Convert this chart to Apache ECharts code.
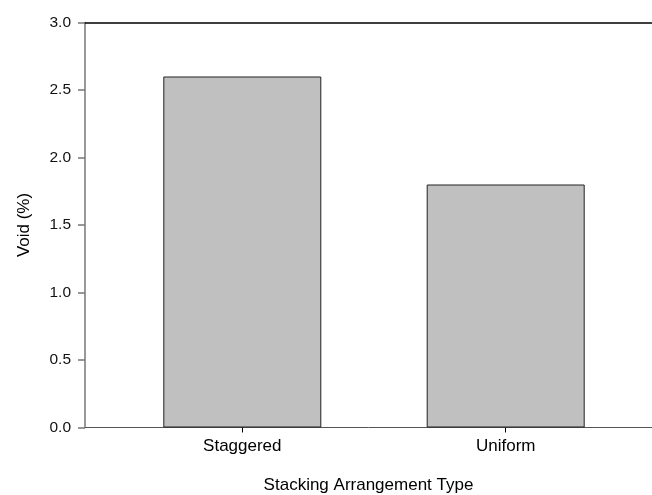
<!DOCTYPE html>
<html>
<head>
<meta charset="utf-8">
<script src="https://cdn.jsdelivr.net/npm/echarts@6/dist/echarts.min.js"></script>
<style>
html,body{margin:0;padding:0;background:#fff;}
#chart{width:652px;height:495px;}
</style>
</head>
<body>
<div id="chart"></div>
<script>
const categories = ["Staggered", "Uniform"];
const voidValues = [2.6, 1.8];
const yTicks = [0, 0.5, 1.0, 1.5, 2.0, 2.5, 3.0];

const FONT = "'Liberation Sans', Arial, sans-serif";
const chart = echarts.init(document.getElementById('chart'), null, {renderer: 'canvas'});
const option = {
  animation: false,
  backgroundColor: '#ffffff',
  grid: [
    {left: 85, right: 0, top: 22.5, bottom: 67.5, containLabel: false, outerBoundsMode: 'none'},
    {left: 110.6, right: 14.6, top: 22.5, bottom: 67.5, containLabel: false, outerBoundsMode: 'none'}
  ],
  xAxis: [
    {
      gridIndex: 0, type: 'value', min: 0, max: 1, position: 'bottom',
      axisLine: {show: true, lineStyle: {color: '#555', width: 1}},
      axisTick: {show: false}, axisLabel: {show: false}, splitLine: {show: false},
      name: 'Stacking Arrangement Type', nameLocation: 'middle', nameGap: 49,
      nameTextStyle: {fontFamily: FONT, fontSize: 17, color: '#000'}
    },
    {
      gridIndex: 0, type: 'value', min: 0, max: 1, position: 'top',
      axisLine: {show: true, lineStyle: {color: '#000', width: 1.5}},
      axisTick: {show: false}, axisLabel: {show: false}, splitLine: {show: false}
    },
    {
      gridIndex: 1, type: 'category', data: categories, position: 'bottom',
      axisLine: {show: false},
      axisTick: {show: true, alignWithLabel: true, length: 5, lineStyle: {color: '#000'}},
      axisLabel: {margin: 10, fontFamily: FONT, fontSize: 17, color: '#000'},
      splitLine: {show: false}
    }
  ],
  yAxis: [
    {
      gridIndex: 0, type: 'value', min: 0, max: 3, interval: 0.5,
      axisLine: {show: true, lineStyle: {color: '#777', width: 1.5}},
      axisTick: {show: true, length: 7, lineStyle: {color: '#777', width: 1.5}},
      axisLabel: {margin: 14, fontFamily: FONT, fontSize: 15.5, color: '#111',
        formatter: v => yTicks.includes(v) ? v.toFixed(1) : ''},
      splitLine: {show: false},
      name: 'Void (%)', nameLocation: 'middle', nameGap: 52, nameRotate: 90,
      nameTextStyle: {fontFamily: FONT, fontSize: 17, color: '#000'}
    },
    {
      gridIndex: 1, type: 'value', min: 0, max: 3, interval: 0.5, show: false
    }
  ],
  series: [
    {
      type: 'bar', xAxisIndex: 2, yAxisIndex: 1, data: voidValues, barWidth: 158,
      itemStyle: {color: '#c0c0c0', borderColor: '#222', borderWidth: 1}
    }
  ]
};
chart.setOption(option);
</script>
</body>
</html>
